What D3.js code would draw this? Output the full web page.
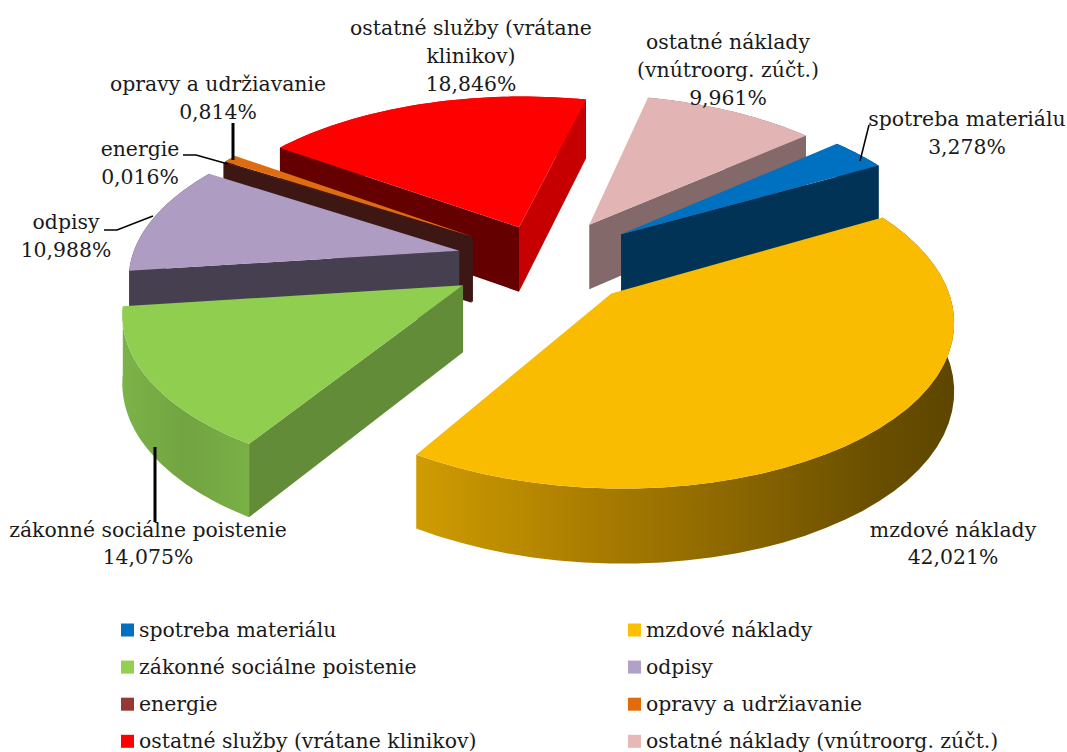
<!DOCTYPE html>
<html><head><meta charset="utf-8">
<script src="https://cdn.jsdelivr.net/npm/d3@7"></script>
<style>html,body{margin:0;background:#fff}svg{display:block}text{font-family:"DejaVu Serif",serif;font-size:20.4px;fill:#1a1a1a}</style>
</head><body><div id="c"></div>
<script>
const categories=["spotreba materiálu","mzdové náklady","zákonné sociálne poistenie","odpisy","energie","opravy a udržiavanie","ostatné služby (vrátane klinikov)","ostatné náklady (vnútroorg. zúčt.)"];
const values=[3.278,42.021,14.075,10.988,0.016,0.814,18.846,9.961];
const topColors=["#0070c0","#fabc00","#8fce4e","#ae9cc2","#953735","#de6c10","#ff0000","#e2b5b4"];
const legendColors=["#0070c0","#fcc000","#92d050","#b2a1c7","#953735","#e36c0a","#ff0000","#e6b9b8"];
const startWall=["#003356","#8a6a00","#628c38","#463f50","#3c1714","#3c1714","#650000","#84696a"];
const endWall=["#003356","#8a6a00","#628c38","#463f50","#3c1714","#c06010","#c60000","#84696a"];
const outerWall=["#003356","url(#gy)","url(#gg)","#463f50","#3c1714","#8a4a10","#c60000","#84696a"];
const explode=[.29,.285,.29,.27,.27,.27,.23,.27];
const drawOrder=[6,5,4,3,2,7,0,1];
const startAngleDeg=49;
const labelLayout=[
 {i:0,lines:["spotreba materiálu","3,278%"],x:967,y:126},
 {i:1,lines:["mzdové náklady","42,021%"],x:953,y:537},
 {i:2,lines:["zákonné sociálne poistenie","14,075%"],x:148,y:537},
 {i:3,lines:["odpisy","10,988%"],x:66,y:229},
 {i:4,lines:["energie","0,016%"],x:140,y:156},
 {i:5,lines:["opravy a udržiavanie","0,814%"],x:218,y:91},
 {i:6,lines:["ostatné služby (vrátane","klinikov)","18,846%"],x:471,y:35},
 {i:7,lines:["ostatné náklady","(vnútroorg. zúčt.)","9,961%"],x:728,y:49}
];
const leaders=[
 {pts:[[869,125],[860,161]],w:1.5},
 {pts:[[155,447],[155,522]],w:3},
 {pts:[[104,230],[117,230],[153,216]],w:1.5},
 {pts:[[183,155],[196,155],[228,164]],w:1.5},
 {pts:[[233,123],[233,160]],w:3}
];
const W=1067,H=752,cx=545,cy=260,R=328,s=.48,p=.14,pz=.1,d=66;
const svg=d3.select("#c").append("svg").attr("width",W).attr("height",H);
const defs=svg.append("defs");
function grad(id,stops){const g=defs.append("linearGradient").attr("id",id);stops.forEach(([o,c])=>g.append("stop").attr("offset",o).attr("stop-color",c));}
grad("gy",[[0,"#cf9c02"],[.3,"#ad7f00"],[.6,"#8a6600"],[.85,"#6a4f00"],[1,"#5e4600"]]);
grad("gg",[[0,"#7cb348"],[.5,"#72a442"],[1,"#7ab046"]]);
const pieGen=d3.pie().sort(null).value(v=>v).startAngle(startAngleDeg*Math.PI/180).endAngle(startAngleDeg*Math.PI/180+2*Math.PI);
const arcs=pieGen(values);
function proj(a,r,e,m,z){
  const X=r*Math.sin(a)+e*Math.sin(m),Y=-r*Math.cos(a)-e*Math.cos(m),w=1-p*Y,wz=1-pz*Y;
  return [cx+R*X/w,cy+R*s*Y/w+d*z/wz];
}
const line=d3.line().curve(d3.curveLinearClosed);
const cross=(a,b,c)=>(b[0]-a[0])*(c[1]-a[1])-(b[1]-a[1])*(c[0]-a[0]);
const gPie=svg.append("g");
drawOrder.forEach(i=>{
  const A=arcs[i],m=(A.startAngle+A.endAngle)/2,e=explode[i];
  const angs=d3.range(0,41).map(k=>A.startAngle+(A.endAngle-A.startAngle)*k/40);
  const rimT=angs.map(a=>proj(a,1,e,m,0)),rimB=angs.map(a=>proj(a,1,e,m,1));
  const P=proj(0,0,e,m,0),Pb=proj(0,0,e,m,1);
  gPie.append("path").attr("d",line(rimT.concat(rimB.slice().reverse()))).attr("fill",outerWall[i]);
  const mid=proj(m,1,e,m,0);
  [[rimT[0],rimB[0],startWall[i]],[rimT[40],rimB[40],endWall[i]]].forEach(([Q,Qb,col])=>{
    const c1=cross(P,Q,mid),c2=cross(P,Q,[P[0],P[1]+1]);
    if(A.endAngle-A.startAngle<.001||c1*c2<0)
      gPie.append("path").attr("d",line([P,Q,Qb,Pb])).attr("fill",col);
  });
  gPie.append("path").attr("d",line([P].concat(rimT))).attr("fill",topColors[i]);
});
const gLead=svg.append("g").attr("fill","none").attr("stroke","#000");
leaders.forEach(l=>gLead.append("path").attr("d",d3.line()(l.pts)).attr("stroke-width",l.w));
const gLab=svg.append("g");
labelLayout.forEach(l=>{
  const t=gLab.append("text").attr("text-anchor","middle");
  l.lines.forEach((s,k)=>t.append("tspan").attr("x",l.x).attr("y",l.y+k*(l.i===1||l.i===2?27:28)).text(s));
});
const legendX=[121,628];
const gLeg=svg.append("g");
categories.forEach((c,i)=>{
  const col=i%2,row=Math.floor(i/2),y=630.5+row*37.1;
  gLeg.append("rect").attr("x",legendX[col]).attr("y",y-7).attr("width",13).attr("height",13).attr("fill",legendColors[i]);
  gLeg.append("text").attr("x",legendX[col]+18).attr("y",y+6.5).text(c);
});
</script></body></html>
